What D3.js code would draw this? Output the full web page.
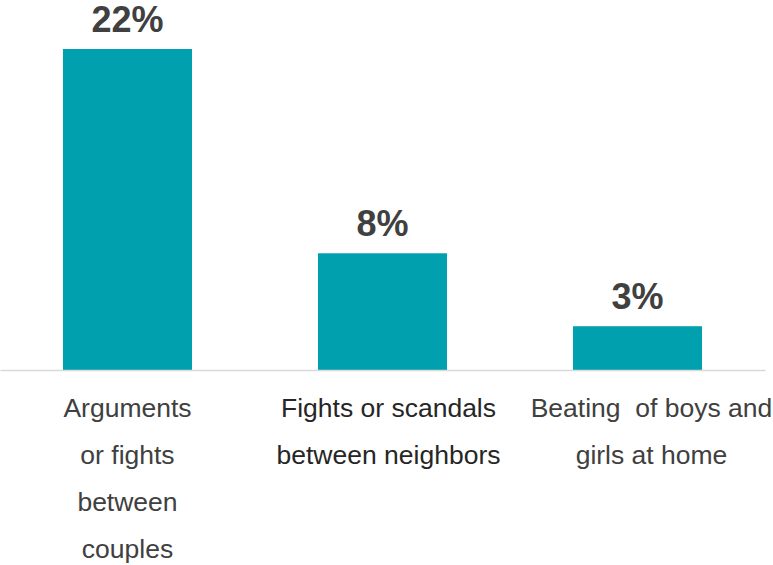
<!DOCTYPE html>
<html>
<head>
<meta charset="utf-8">
<script src="https://cdn.jsdelivr.net/npm/d3@7"></script>
<style>
  html, body { margin: 0; padding: 0; background: #fff; }
  svg { display: block; font-family: "Liberation Sans", Arial, sans-serif; }
</style>
</head>
<body>
<svg id="chart" width="773" height="565"></svg>
<script>
const categories = ["Arguments or fights between couples", "Fights or scandals between neighbors", "Beating  of boys and girls at home"];
const labelLines = [
  ["Arguments", "or fights", "between", "couples"],
  ["Fights or scandals", "between neighbors"],
  ["Beating  of boys and", "girls at home"]
];
const values = [22, 8, 3];
const valueLabels = ["22%", "8%", "3%"];

const svg = d3.select("#chart");
const baseline = 370;

const x = d3.scaleBand().domain(categories).range([0, 765]).paddingInner(0.494).paddingOuter(0.247);
const y = d3.scaleLinear().domain([0, 22]).range([baseline, 49]);

// bars
svg.selectAll("rect.bar").data(values).join("rect")
  .attr("class", "bar")
  .attr("x", (d, i) => x(categories[i]))
  .attr("width", x.bandwidth())
  .attr("y", d => y(d))
  .attr("height", d => y(0) - y(d))
  .attr("fill", "#00A0AE");

// axis line
const xAxis = d3.axisBottom(x).tickSize(0).tickFormat("");
const ax = svg.append("g").attr("transform", `translate(0,${baseline})`).call(xAxis);
ax.select(".domain").attr("stroke", "#d9d9d9").attr("stroke-width", 1.5);

// value labels
svg.selectAll("text.val").data(values).join("text")
  .attr("class", "val")
  .attr("x", (d, i) => x(categories[i]) + x.bandwidth() / 2)
  .attr("y", d => y(d) - 17)
  .attr("text-anchor", "middle")
  .attr("font-size", "36px")
  .attr("font-weight", "bold")
  .attr("fill", "#404040")
  .text((d, i) => valueLabels[i]);

// category labels (text boxes slightly offset to the right as in the original)
const labelShift = [0, 6, 14];
categories.forEach((c, i) => {
  const cx = x(c) + x.bandwidth() / 2 + labelShift[i];
  const t = svg.append("text")
    .attr("x", cx)
    .attr("y", 417)
    .attr("text-anchor", "middle")
    .attr("font-size", "26.5px")
    .attr("fill", i === 1 ? "#262626" : "#404040")
    .style("white-space", "pre");
  labelLines[i].forEach((ln, j) => {
    t.append("tspan")
      .attr("x", cx)
      .attr("y", 417 + j * 47)
      .text(ln);
  });
});
</script>
</body>
</html>
